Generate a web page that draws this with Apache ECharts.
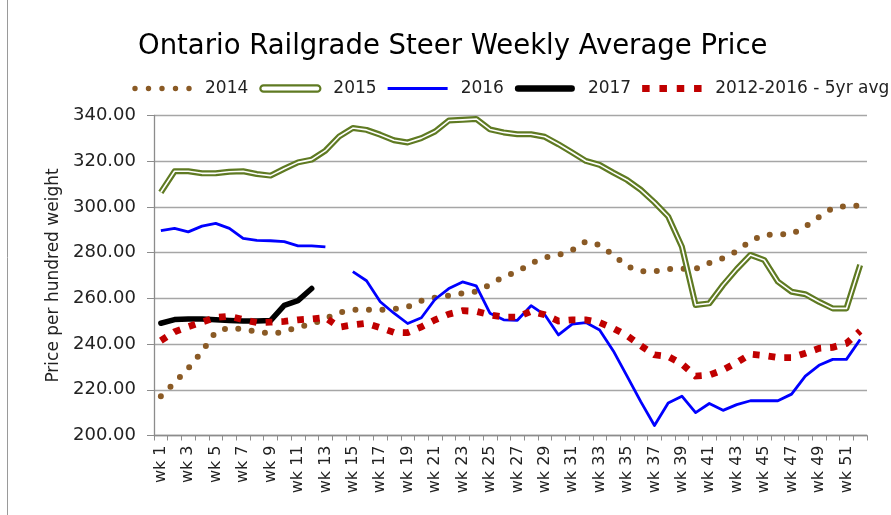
<!DOCTYPE html>
<html><head><meta charset="utf-8">
<script src="https://cdn.jsdelivr.net/npm/echarts@6/dist/echarts.min.js"></script>
<style>html,body{margin:0;padding:0;background:#fff}#c{width:891px;height:515px}</style>
</head><body><div id="c"></div>
<script>
const weeks = ['wk 1','wk 2','wk 3','wk 4','wk 5','wk 6','wk 7','wk 8','wk 9','wk 10',
  'wk 11','wk 12','wk 13','wk 14','wk 15','wk 16','wk 17','wk 18','wk 19','wk 20',
  'wk 21','wk 22','wk 23','wk 24','wk 25','wk 26','wk 27','wk 28','wk 29','wk 30',
  'wk 31','wk 32','wk 33','wk 34','wk 35','wk 36','wk 37','wk 38','wk 39','wk 40',
  'wk 41','wk 42','wk 43','wk 44','wk 45','wk 46','wk 47','wk 48','wk 49','wk 50',
  'wk 51','wk 52'];
const y2014 = [217.2,223.1,229.4,236.7,245.4,247.1,246.5,245.5,244.5,245.4,
  247.5,248.7,251.2,253.8,255,255,255,255.3,256.3,258.9,
  260.3,261.2,262.2,263,266,269.5,271.6,275.3,277.9,278.9,
  281.1,284.9,283.3,279,274.1,271.9,271.8,272.8,272.9,272.9,
  275.5,277.6,280.6,285.1,287.8,288,288,291.4,295.6,299.5,
  300.4,300.5];
const y2015 = [306.4,315.6,315.6,314.7,314.7,315.4,315.6,314.4,313.7,316.7,
  319.5,320.7,324.6,330.8,334.5,333.7,331.6,329.2,328.2,330.1,
  333,337.8,338.1,338.5,333.9,332.6,331.8,331.8,330.7,327.4,
  323.8,320.1,318.4,315,311.8,307.5,302,295.8,282.6,257.1,
  257.8,265.8,272.8,279,276.8,267.3,262.9,261.8,258.5,255.6,
  255.6,274.6];
const y2016 = [289.6,290.6,289.1,291.6,292.8,290.6,286.2,285.4,285.2,284.8,
  283,283,282.5,null,271.7,267.7,258.5,253.5,249,251.5,
  259.6,264.3,267.2,265.5,253.5,250.6,250.4,256.8,252.8,244,
  248.7,249.4,246.2,237,226,214.8,204.4,214.2,217.2,210,
  214,211,213.5,215.2,215.2,215.2,218.1,226,230.7,233.3,
  233.3,242];
const y2017 = [249.1,250.7,251,251,250.6,250.3,250.1,250.1,250.3,256.9,259,264.3];
const yAvg = [241.5,245.4,247.6,249.6,251.6,252.2,250.7,249.4,249.6,249.9,
  250.6,251,251.6,247.4,248.4,249.1,247.2,245.1,245,247.5,
  250.6,253.1,254.6,254.3,252.8,251.8,251.8,254.3,252.8,250.1,
  250.6,250.6,249.4,246.9,243.7,239.3,235.3,234.6,231.3,226,
  226.4,228.7,231.9,235.6,235,234.1,234.1,236,238.1,238.6,
  240.3,245.7];
const yTicks = [200,220,240,260,280,300,320,340];

const FONT = 'DejaVu Sans';
const BROWN = '#8a5a25', GREEN = '#5f7a22', BLUE = '#0000ff', BLACK = '#000000', RED = '#c00000';
const PAD = 'M0 0M60 10';
const iconDots = 'path://' + PAD + [0.3,13.8,27.3,40.8,54.3].map(x => 'M' + x + ' 5a2.7 2.7 0 1 0 5.4 0a2.7 2.7 0 1 0 -5.4 0Z').join('');
const iconBar = 'path://' + PAD + 'M3 1.8L57 1.8A3.2 3.2 0 0 1 57 8.2L3 8.2A3.2 3.2 0 0 1 3 1.8Z';
const iconThin = 'path://' + PAD + 'M0 3.6L60 3.6L60 6.4L0 6.4Z';
const iconSq = 'path://' + PAD + [0,17.3,34.6,51.9].map(x => 'M' + x + ' 1.5l7.5 0l0 7l-7.5 0Z').join('');

const chart = echarts.init(document.getElementById('c'), null, {renderer: 'canvas'});
const common = {type: 'line', symbol: 'none', animation: false, emphasis: {disabled: true}, silent: true};
chart.setOption({
  animation: false,
  title: {
    text: 'Ontario Railgrade Steer Weekly Average Price',
    left: 133, top: 28,
    textStyle: {fontFamily: FONT, fontSize: 27.5, fontWeight: 'normal', color: '#000'}
  },
  legend: {
    left: 132, top: 80, padding: 0, itemWidth: 60, itemHeight: 10, itemGap: 11, selectedMode: false,
    textStyle: {fontFamily: FONT, fontSize: 17, color: '#222', padding: [0, 0, 0, 8]},
    data: [
      {name: '2014', icon: iconDots, itemStyle: {color: BROWN, borderWidth: 0, opacity: 1}},
      {name: '2015', icon: iconBar, itemStyle: {color: '#fff', borderColor: GREEN, borderWidth: 2.2, opacity: 1}},
      {name: '2016', icon: iconThin, itemStyle: {color: BLUE, borderWidth: 0, opacity: 1}},
      {name: '2017', icon: iconBar, itemStyle: {color: BLACK, borderWidth: 0, opacity: 1}},
      {name: '2012-2016 - 5yr avg', icon: iconSq, itemStyle: {color: RED, borderWidth: 0, opacity: 1}}
    ]
  },
  grid: {left: 154, right: 24, top: 115.5, bottom: 79.5, containLabel: false, outerBoundsMode: 'none'},
  xAxis: {
    type: 'category', data: weeks, boundaryGap: true,
    axisLine: {show: true, lineStyle: {color: '#8c8c8c', width: 1.3}},
    axisTick: {show: true, interval: 0, length: 5, lineStyle: {color: '#8c8c8c', width: 1}},
    axisLabel: {interval: 1, rotate: 90, margin: 10, fontFamily: FONT, fontSize: 16, color: '#222'},
    splitLine: {show: false}
  },
  yAxis: {
    type: 'value', min: yTicks[0], max: yTicks[yTicks.length - 1], interval: 20,
    name: 'Price per hundred weight', nameLocation: 'middle', nameGap: 88,
    nameTextStyle: {fontFamily: FONT, fontSize: 17, color: '#222'},
    axisLine: {show: true, lineStyle: {color: '#8c8c8c', width: 1.3}},
    axisTick: {show: true, length: 7, lineStyle: {color: '#8c8c8c', width: 1}},
    axisLabel: {margin: 18, fontFamily: FONT, fontSize: 18, color: '#222', formatter: v => v.toFixed(2)},
    splitLine: {show: true, lineStyle: {color: '#a6a6a6', width: 1.3}}
  },
  graphic: [{type: 'line', shape: {x1: 7.5, y1: 0, x2: 7.5, y2: 515}, style: {stroke: '#9a9a9a', lineWidth: 1}}],
  series: [
    Object.assign({}, common, {name: '2014', data: y2014, z: 2,
      lineStyle: {color: BROWN, width: 6, type: [0, 13.5], cap: 'round', join: 'round'}}),
    Object.assign({}, common, {name: '2015', data: y2015, z: 3,
      lineStyle: {color: GREEN, width: 6, join: 'round'}}),
    Object.assign({}, common, {name: '2015 core', data: y2015, z: 4,
      lineStyle: {color: '#ffffff', width: 1.6, join: 'round'}}),
    Object.assign({}, common, {name: '2016', data: y2016, z: 5,
      lineStyle: {color: BLUE, width: 2.8, join: 'round'}}),
    Object.assign({}, common, {name: '2017', data: y2017, z: 6,
      lineStyle: {color: BLACK, width: 5.5, cap: 'round', join: 'round'}}),
    Object.assign({}, common, {name: '2012-2016 - 5yr avg', data: yAvg, z: 7,
      lineStyle: {color: RED, width: 6.8, type: [6.8, 9], cap: 'butt', join: 'miter'}})
  ]
});
</script></body></html>
